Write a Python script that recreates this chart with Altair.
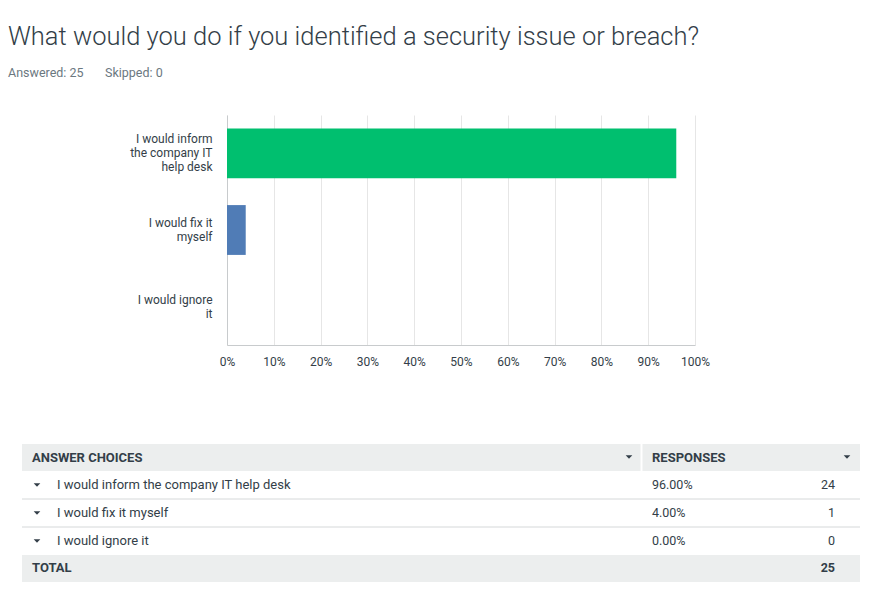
import json
import altair as alt
import pandas as pd

# ---------------- data ----------------
title_text = "What would you do if you identified a security issue or breach?"
answered = 25
skipped = 0
choices = [
    "I would inform the company IT help desk",
    "I would fix it myself",
    "I would ignore it",
]
choice_lines = [
    ["I would inform", "the company IT", "help desk"],
    ["I would fix it", "myself"],
    ["I would ignore", "it"],
]
pcts = [0.96, 0.04, 0.0]
counts = [24, 1, 0]
bar_colors = ["#00bf6f", "#507cb6", "#f05b24"]
x_ticks = [0, 0.1, 0.2, 0.3, 0.4, 0.5, 0.6, 0.7, 0.8, 0.9, 1.0]
header_labels = ["ANSWER CHOICES", "RESPONSES"]
total_label = "TOTAL"

# ---------------- layout ----------------
W, H = 882, 595
X0, Y0, X1, Y1 = 227, 115, 695, 345  # plot area
LINE_H = 14


def px(x):
    return x - X0


def py(y):
    return y - Y0


FONT = "Roboto"
DARK = "#333e48"
GREY = "#6b787f"
BG = "#eceeee"

df = pd.DataFrame({"choice": choices, "pct": pcts, "count": counts})
one = pd.DataFrame({"k": [0]})

label_expr = ""
for c, lines in zip(choices, choice_lines):
    label_expr += f"datum.value === {json.dumps(c)} ? {json.dumps(lines)} : "
label_expr += "datum.label"

label_offset = {
    "condition": [
        {"test": f"datum.value === {json.dumps(c)}",
         "value": -(len(lines) - 1) * LINE_H / 2}
        for c, lines in zip(choices, choice_lines)
    ],
    "value": 0,
}

bars = alt.Chart(df).mark_bar().encode(
    x=alt.X(
        "pct:Q",
        scale=alt.Scale(domain=[0, 1]),
        axis=alt.Axis(
            title=None, format="%", values=x_ticks, grid=True,
            gridColor="#e6e6e6", domainColor="#c8cbcd", ticks=False,
            labelPadding=11, labelFontSize=12, labelFont=FONT, labelColor=DARK,
            labelFlush=False,
        ),
    ),
    y=alt.Y(
        "choice:N",
        sort=choices,
        scale=alt.Scale(domain=choices, paddingInner=0.35, paddingOuter=0.175),
        axis=alt.Axis(
            title=None, ticks=False, grid=False, domainColor="#c8cbcd",
            labelPadding=15, labelFontSize=12, labelFont=FONT, labelColor=DARK,
            labelLineHeight=LINE_H, labelExpr=label_expr, labelLimit=200,
            labelOffset=label_offset,
        ),
    ),
    color=alt.Color(
        "choice:N", scale=alt.Scale(domain=choices, range=bar_colors), legend=None
    ),
)

title = alt.Chart(one).mark_text(
    align="left", baseline="alphabetic", font=FONT, fontSize=25.5,
    fontWeight=300, color=DARK,
).encode(x=alt.value(px(8)), y=alt.value(py(45)), text=alt.value(title_text))

sub1 = alt.Chart(one).mark_text(
    align="left", baseline="middle", font=FONT, fontSize=12.5, color=GREY,
).encode(x=alt.value(px(8)), y=alt.value(py(73)),
         text=alt.value(f"Answered: {answered}"))

sub2 = alt.Chart(one).mark_text(
    align="left", baseline="middle", font=FONT, fontSize=12.5, color=GREY,
).encode(x=alt.value(px(105)), y=alt.value(py(73)),
         text=alt.value(f"Skipped: {skipped}"))

# table backgrounds
header_bg = alt.Chart(one).mark_rect(color=BG).encode(
    x=alt.value(px(22)), x2=alt.value(px(860)),
    y=alt.value(py(444)), y2=alt.value(py(471)),
)
total_bg = alt.Chart(one).mark_rect(color=BG).encode(
    x=alt.value(px(22)), x2=alt.value(px(860)),
    y=alt.value(py(555)), y2=alt.value(py(582)),
)
header_sep = alt.Chart(one).mark_rule(color="white", strokeWidth=2).encode(
    x=alt.value(px(641.5)), y=alt.value(py(444)), y2=alt.value(py(471)),
)

row_scale = alt.Scale(domain=choices, range=[py(471), py(555)],
                      paddingInner=0, paddingOuter=0)

row_rules = alt.Chart(df).transform_filter(
    alt.datum.choice != choices[-1]
).mark_rule(color="#d5d8d9", strokeWidth=1).encode(
    x=alt.value(px(22)), x2=alt.value(px(860)),
    y=alt.Y("choice:N", scale=row_scale, axis=None, bandPosition=1),
)

header_text = alt.Chart(one).mark_text(
    align="left", baseline="middle", font=FONT, fontSize=13,
    fontWeight="bold", color=DARK,
).encode(x=alt.value(px(32)), y=alt.value(py(458)), text=alt.value(header_labels[0]))

header_text2 = alt.Chart(one).mark_text(
    align="left", baseline="middle", font=FONT, fontSize=13,
    fontWeight="bold", color=DARK,
).encode(x=alt.value(px(652)), y=alt.value(py(458)), text=alt.value(header_labels[1]))

tri_shape = "M-1,-0.5L1,-0.5L0,0.5Z"
header_tri1 = alt.Chart(one).mark_point(
    shape=tri_shape, filled=True, size=44, color=DARK, opacity=1
).encode(x=alt.value(px(629)), y=alt.value(py(457)))
header_tri2 = alt.Chart(one).mark_point(
    shape=tri_shape, filled=True, size=44, color=DARK, opacity=1
).encode(x=alt.value(px(847)), y=alt.value(py(457)))

row_tri = alt.Chart(df).mark_point(
    shape=tri_shape, filled=True, size=44, color=DARK, opacity=1
).encode(
    x=alt.value(px(37)),
    y=alt.Y("choice:N", scale=row_scale, axis=None),
)

row_label = alt.Chart(df).mark_text(
    align="left", baseline="middle", font=FONT, fontSize=13, color=DARK,
).encode(
    x=alt.value(px(57)),
    y=alt.Y("choice:N", scale=row_scale, axis=None),
    text="choice:N",
)

row_pct = alt.Chart(df).mark_text(
    align="left", baseline="middle", font=FONT, fontSize=12.5, color=DARK,
).encode(
    x=alt.value(px(652)),
    y=alt.Y("choice:N", scale=row_scale, axis=None),
    text=alt.Text("pct:Q", format=".2%"),
)

row_count = alt.Chart(df).mark_text(
    align="right", baseline="middle", font=FONT, fontSize=12.5, color=DARK,
).encode(
    x=alt.value(px(835)),
    y=alt.Y("choice:N", scale=row_scale, axis=None),
    text=alt.Text("count:Q"),
)

total_text = alt.Chart(one).mark_text(
    align="left", baseline="middle", font=FONT, fontSize=13,
    fontWeight="bold", color=DARK,
).encode(x=alt.value(px(32)), y=alt.value(py(568)), text=alt.value(total_label))

total_count = alt.Chart(df).transform_aggregate(
    total="sum(count)"
).mark_text(
    align="right", baseline="middle", font=FONT, fontSize=12.5,
    fontWeight="bold", color=DARK,
).encode(x=alt.value(px(835)), y=alt.value(py(568)), text=alt.Text("total:Q"))

chart = alt.layer(
    bars, title, sub1, sub2,
    header_bg, total_bg, header_sep, row_rules,
    header_text, header_text2, header_tri1, header_tri2,
    row_tri, row_label, row_pct, row_count,
    total_text, total_count,
).resolve_scale(
    y="independent", color="independent"
).properties(
    width=X1 - X0,
    height=Y1 - Y0,
    autosize=alt.AutoSizeParams(type="none"),
    padding={"left": X0, "top": Y0, "right": W - X1, "bottom": H - Y1},
    background="white",
).configure_view(stroke=None)

chart.save("out.html", embed_options={"renderer": "svg", "actions": False})
